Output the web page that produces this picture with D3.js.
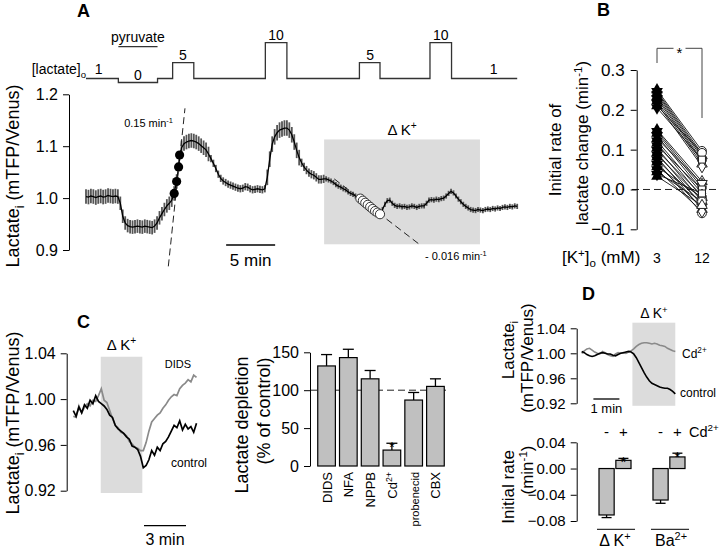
<!DOCTYPE html>
<html><head><meta charset="utf-8">
<script src="https://cdn.jsdelivr.net/npm/d3@7"></script>
<style>
body{margin:0;background:#fff}
svg{display:block}
text{font-family:"Liberation Sans",Arial,Helvetica,sans-serif;fill:#000}
</style>
</head><body>
<svg id="chart" width="720" height="549"></svg>
<script>
// ---------------- DATA ----------------
// Panel A: mean lactate trace, sampled every 0.25 min
const traceAStep = 0.25;
const traceAValues = [1.003,1.002,1.004,1.003,1.001,1.003,1.004,1.002,1.003,1.005,1.004,1.003,1.004,1.003,
0.990,0.965,0.952,0.947,0.945,0.944,0.945,0.946,0.945,0.944,0.946,0.945,0.944,0.943,0.946,0.952,0.962,0.970,0.978,0.985,0.990,0.996,
1.009,1.032,1.068,1.097,1.105,1.108,1.110,1.111,1.110,1.108,1.105,1.101,1.097,1.093,1.085,1.076,1.067,1.057,1.046,1.038,
1.033,1.030,1.027,1.025,1.023,1.021,1.019,1.018,1.019,1.022,1.021,1.018,1.016,1.017,1.018,1.017,1.016,1.018,
1.040,1.075,1.104,1.118,1.126,1.131,1.133,1.135,1.135,1.131,1.122,1.108,1.092,1.078,1.068,1.060,1.054,1.049,1.046,1.044,1.040,1.036,
1.036,1.037,1.037,1.035,1.033,1.030,1.026,1.023,1.021,1.018,1.016,1.012,1.009,1.007,1.004,1.002,
0.999,0.995,0.991,0.987,0.983,0.979,0.975,0.972,0.969,0.978,0.988,0.995,0.996,0.990,0.986,0.984,
0.985,0.983,0.984,0.982,0.983,0.985,0.984,0.982,0.984,0.985,0.985,0.990,0.996,0.997,0.996,0.998,0.997,0.999,1.000,1.004,1.009,1.013,
1.010,1.004,0.998,0.993,0.988,0.984,0.981,0.978,0.977,0.976,0.978,0.977,0.976,0.978,0.979,0.978,0.980,0.979,0.981,0.980,0.982,0.983,0.982,0.984,0.983,0.985,0.984];
// SEM per time segment [start, end, sem]
const traceASem = [[0,3.4,0.014],[3.4,9,0.013],[9,12.6,0.014],[12.6,18.4,0.007],[18.4,22,0.015],[22,24.3,0.008],[24.3,30.1,0.005],[30.1,44.1,0.005]];
const stimStart = [0, 3.3, 7.3, 8.84, 11.0, 18.3, 20.5, 27.9, 30.0, 35.1, 37.3];
const stimConc  = [1, 0, 1, 5, 1, 10, 1, 5, 1, 10, 1];
const stimEndTime = 44;
const stimLabelT = [1.3, 5.3, 9.9, 19.4, 29.0, 36.2, 41.6];
const stimLabelConc = [1, 0, 5, 10, 5, 10, 1];
const stimLabelText = ["1","0","5","10","5","10","1"];
const pyruvateT = [3.3, 7.3];
const fitUpT = [8.40, 10.10], fitUpV = [0.8685, 1.173];
const fitDownT = [25.33, 34.15], fitDownV = [1.037, 0.909];
const dotsUpT = [9.0, 9.25, 9.45, 9.55], dotsUpV = [1.009, 1.032, 1.060, 1.083];
const dotsDownT = [28.0,28.25,28.5,28.75,29.0,29.25,29.5,29.75,30.0];
const dotsDownV = [0.999,0.995,0.991,0.987,0.983,0.979,0.975,0.972,0.969];
const boxAT = [24.3, 40.2], boxAV = [0.911, 1.113];
const scaleBarAT = [14.3, 19.3];
const ticksA = [0.9, 1.0, 1.1, 1.2];

// Panel B: initial rate at 3 and 12 mM K+
const kLevels = ["3", "12"];
const rate3  = [0.250,0.246,0.242,0.238,0.233,0.228,0.222,0.216,0.210,0.205,
  0.150,0.146,0.141,0.135,0.128,0.122,0.116,0.110,0.104,0.098,0.092,0.087,0.081,0.075,0.069,0.063,0.057,0.050,0.044,0.038,0.033];
const rate12 = [0.097,0.090,0.085,0.080,0.074,0.070,0.064,0.058,0.092,0.075,
  0.020,0.012,0.005,-0.002,0.015,-0.010,-0.020,0.000,-0.030,-0.015,-0.040,-0.025,-0.050,-0.035,-0.060,-0.045,-0.020,-0.055,-0.030,-0.010,-0.040];
const ticksB = [-0.1, 0.0, 0.1, 0.2, 0.3];

// Panel C left: example traces (sampled every 0.2 min)
const traceCStep = 0.2;
const controlC = [0.990,0.985,0.993,0.988,0.995,0.992,0.999,0.996,1.003,0.998,0.996,0.994,0.991,0.986,0.984,0.977,0.974,0.972,0.970,0.967,
  0.965,0.959,0.958,0.956,0.950,0.940,0.942,0.947,0.955,0.951,0.958,0.955,0.961,0.963,0.967,0.972,0.977,0.975,0.981,0.973,0.978,0.974,0.976,0.971,0.979];
const didsC = [0.985,0.984,0.994,0.988,0.993,0.996,0.994,0.999,0.998,1.003,1.009,0.999,0.997,0.990,0.983,0.977,0.975,0.971,0.970,0.968,
  0.963,0.961,0.958,0.957,0.955,0.955,0.962,0.972,0.980,0.983,0.986,0.988,0.992,0.995,0.999,1.002,1.004,1.003,1.009,1.012,1.014,1.017,1.015,1.021,1.019];
const boxCT = [1.96, 4.93], boxCV = [0.918, 1.037];
const scaleBarCT = [5.05, 8.05];
const ticksC = [0.92, 0.96, 1.00, 1.04];

// Panel C right: lactate depletion (% of control)
const blockers = ["DIDS", "NFA", "NPPB", "Cd2+", "probenecid", "CBX"];
const depletion = [132, 143, 115, 21, 87, 105];
const depletionErr = [15, 11, 11, 9, 10, 10];
const ticksCB = [0, 50, 100, 150];

// Panel D top: traces (sampled every 0.1 min)
const traceDStep = 0.1;
const cdD = [1.000,1.004,1.007,1.008,1.005,1.002,1.000,0.999,1.003,1.001,0.998,0.996,0.995,0.999,1.001,1.000,1.001,1.000,1.002,1.004,
  1.007,1.011,1.014,1.016,1.017,1.017,1.016,1.015,1.016,1.015,1.013,1.012,1.011,1.008,1.006,1.004,1.003];
const controlD = [1.003,1.001,0.998,0.996,0.995,0.996,0.998,1.000,1.001,1.000,0.999,0.999,0.997,0.996,0.998,1.000,1.001,1.002,1.003,1.002,
  0.999,0.993,0.985,0.977,0.969,0.962,0.956,0.952,0.950,0.948,0.946,0.945,0.944,0.944,0.942,0.939,0.935];
const boxDT = [1.95, 3.6], boxDV = [0.916, 1.049];
const scaleBarDT = [0.45, 1.45];
const ticksD = [0.92, 0.96, 1.00, 1.04];

// Panel D bottom: initial rates
const rateGroups = ["dK", "Ba"];
const cdStates = ["-", "+"];
const rateD = {dK: [-0.0708, 0.0125], Ba: [-0.048, 0.0177]};
const rateDErr = {dK: [0.004, 0.003], Ba: [0.005, 0.0057]};
const ticksDB = [-0.08, -0.04, 0.00, 0.04];

// ---------------- HELPERS ----------------
const svg = d3.select("#chart");
svg.append("rect").attr("width",720).attr("height",549).attr("fill","#fff");

function rich(g, x, y, parts, size, anchor) {
  const t = g.append("text").attr("x", x).attr("y", y).attr("font-size", size).attr("text-anchor", anchor || "start");
  let shift = 0;
  parts.forEach(p => {
    const [s, k] = Array.isArray(p) ? p : [p, "n"];
    const target = k === "sup" ? -0.38 * size : k === "sub" ? 0.25 * size : 0;
    const ts = t.append("tspan").text(s).attr("dy", target - shift);
    if (k !== "n") ts.attr("font-size", size * 0.68);
    shift = target;
  });
  return t;
}
function vtitle(x, y, parts, size, anchor) {
  const g = svg.append("g").attr("transform", `translate(${x},${y}) rotate(-90)`);
  rich(g, 0, 0, parts, size, anchor || "middle");
}
function yAxis(x, scale, ticks, fmt, size, pad) {
  const g = svg.append("g").attr("transform", `translate(${x},0)`)
    .call(d3.axisLeft(scale).tickValues(ticks).tickFormat(fmt).tickSize(6).tickSizeOuter(0).tickPadding(pad || 5));
  g.attr("font-family", null).attr("font-size", null);
  g.selectAll("text").attr("font-size", size).attr("fill", "#000");
  g.select(".domain").attr("stroke", "#000");
  g.selectAll(".tick line").attr("stroke", "#000");
  return g;
}
function letter(x, y, s) {
  svg.append("text").attr("x", x).attr("y", y).attr("font-size", 18).attr("font-weight", "bold").text(s);
}
const dashed = "7,4";

// ---------------- PANEL A ----------------
const xA = d3.scaleLinear().domain([0, 44]).range([86, 517.2]);
const yA = d3.scaleLinear().domain([0.9, 1.2]).range([250, 94.3]);
const yStim = d3.scaleLinear().domain([0, 10]).range([82.5, 42.7]);
letter(77, 17, "A");

svg.append("rect").attr("x", xA(boxAT[0])).attr("y", yA(boxAV[1]))
  .attr("width", xA(boxAT[1]) - xA(boxAT[0])).attr("height", yA(boxAV[0]) - yA(boxAV[1])).attr("fill", "#dcdcdc");
rich(svg, (xA(boxAT[0]) + xA(boxAT[1])) / 2, 135, ["Δ K", ["+", "sup"]], 15, "middle");

const stimPts = stimStart.map((t, i) => [t, stimConc[i]]).concat([[stimEndTime, stimConc[stimConc.length - 1]]]);
svg.append("path").datum(stimPts)
  .attr("d", d3.line().x(d => xA(d[0])).y(d => yStim(d[1])).curve(d3.curveStepAfter))
  .attr("fill", "none").attr("stroke", "#333").attr("stroke-width", 1.3);
stimLabelT.forEach((t, i) => {
  svg.append("text").attr("x", xA(t)).attr("y", yStim(stimLabelConc[i]) - (stimLabelConc[i] === 1 ? 5 : 3))
    .attr("font-size", 14).attr("text-anchor", "middle").text(stimLabelText[i]);
});
rich(svg, 86, 74, ["[lactate]", ["o", "sub"]], 14, "end");
svg.append("line").attr("x1", xA(pyruvateT[0])).attr("x2", xA(pyruvateT[1])).attr("y1", 46.7).attr("y2", 46.7)
  .attr("stroke", "#333").attr("stroke-width", 1.3);
svg.append("text").attr("x", (xA(pyruvateT[0]) + xA(pyruvateT[1])) / 2).attr("y", 42).attr("font-size", 14)
  .attr("text-anchor", "middle").text("pyruvate");

yAxis(69, yA, ticksA, d3.format(".1f"), 16, 5);
vtitle(19, 176, ["Lactate", ["i", "sub"], " (mTFP/Venus)"], 18);

const traceA = traceAValues.map((v, i) => ({t: i * traceAStep, v}));
const semAt = t => { const s = traceASem.find(d => t >= d[0] && t < d[1]); return s ? s[2] : 0.005; };
svg.append("g").selectAll("line").data(traceA).join("line")
  .attr("x1", d => xA(d.t)).attr("x2", d => xA(d.t))
  .attr("y1", d => yA(d.v - semAt(d.t))).attr("y2", d => yA(d.v + semAt(d.t)))
  .attr("stroke", "#555").attr("stroke-width", 1.8);
svg.append("path").datum(traceA).attr("d", d3.line().x(d => xA(d.t)).y(d => yA(d.v)))
  .attr("fill", "none").attr("stroke", "#000").attr("stroke-width", 1.3);

[[fitUpT, fitUpV], [fitDownT, fitDownV]].forEach(([T, V]) => {
  svg.append("line").attr("x1", xA(T[0])).attr("y1", yA(V[0])).attr("x2", xA(T[1])).attr("y2", yA(V[1]))
    .attr("stroke", "#222").attr("stroke-width", 1).attr("stroke-dasharray", dashed);
});
svg.append("g").selectAll("circle").data(dotsUpT).join("circle")
  .attr("cx", d => xA(d)).attr("cy", (d, i) => yA(dotsUpV[i])).attr("r", 4.6).attr("fill", "#000");
svg.append("g").selectAll("circle").data(dotsDownT).join("circle")
  .attr("cx", d => xA(d)).attr("cy", (d, i) => yA(dotsDownV[i])).attr("r", 4.6)
  .attr("fill", "#fff").attr("stroke", "#333").attr("stroke-width", 1);
rich(svg, 173, 127, ["0.15 min", ["-1", "sup"]], 11, "end");
rich(svg, 425, 260, ["- 0.016 min", ["-1", "sup"]], 11, "start");

svg.append("line").attr("x1", xA(scaleBarAT[0])).attr("x2", xA(scaleBarAT[1])).attr("y1", 245).attr("y2", 245)
  .attr("stroke", "#000").attr("stroke-width", 1.3);
svg.append("text").attr("x", (xA(scaleBarAT[0]) + xA(scaleBarAT[1])) / 2).attr("y", 266).attr("font-size", 17)
  .attr("text-anchor", "middle").text("5 min");

// ---------------- PANEL B ----------------
letter(597, 16, "B");
const xB = d3.scalePoint().domain(kLevels).range([657, 702]);
const yB = d3.scaleLinear().domain([-0.1, 0.3]).range([229.3, 70]);
svg.append("line").attr("x1", 632).attr("x2", 720).attr("y1", yB(0)).attr("y2", yB(0))
  .attr("stroke", "#222").attr("stroke-width", 1).attr("stroke-dasharray", dashed);
yAxis(636.7, yB, ticksB, d3.format(".1f"), 17, 6);
vtitle(561, 150, ["Initial rate of"], 17);
vtitle(588, 143, ["lactate change (min", ["-1", "sup"], ")"], 17);
const pairs = rate3.map((v, i) => ({a: v, b: rate12[i], i}));
svg.append("g").selectAll("line").data(pairs).join("line")
  .attr("x1", xB("3")).attr("x2", xB("12")).attr("y1", d => yB(d.a)).attr("y2", d => yB(d.b))
  .attr("stroke", "#111").attr("stroke-width", 0.9);
const openShapes = [d3.symbolCircle, d3.symbolSquare, d3.symbolTriangle, d3.symbolDiamond];
svg.append("g").selectAll("path").data(pairs).join("path")
  .attr("transform", d => `translate(${xB("12")},${yB(d.b)})` + (d.i % 5 === 4 ? " rotate(180)" : ""))
  .attr("d", d => d3.symbol().type(openShapes[d.i % 4]).size(d.i % 4 === 0 ? 60 : 48)())
  .attr("fill", "#fff").attr("stroke", "#222").attr("stroke-width", 1);
svg.append("g").selectAll("path").data(pairs).join("path")
  .attr("transform", d => `translate(${xB("3")},${yB(d.a)})` + (d.i % 2 ? " rotate(180)" : ""))
  .attr("d", d3.symbol().type(d3.symbolTriangle).size(60)())
  .attr("fill", "#000");
const brY = 48.3;
svg.append("path").attr("d", `M${xB("3")},63 V${brY} H${(xB("3") + xB("12")) / 2 - 6} M${(xB("3") + xB("12")) / 2 + 6},${brY} H${xB("12")} V118`)
  .attr("fill", "none").attr("stroke", "#444").attr("stroke-width", 1);
svg.append("text").attr("x", (xB("3") + xB("12")) / 2).attr("y", 58).attr("font-size", 15).attr("text-anchor", "middle").text("*");
rich(svg, 562, 263, ["[K", ["+", "sup"], "]", ["o", "sub"], " (mM)"], 17, "start");
kLevels.forEach(k => svg.append("text").attr("x", xB(k)).attr("y", 263).attr("font-size", 14).attr("text-anchor", "middle").text(k));

// ---------------- PANEL C left ----------------
letter(77, 328, "C");
const xC = d3.scaleLinear().domain([0, 8.8]).range([73.3, 196.5]);
const yC = d3.scaleLinear().domain([0.92, 1.04]).range([490.7, 353.3]);
svg.append("rect").attr("x", xC(boxCT[0])).attr("y", yC(boxCV[1])).attr("width", xC(boxCT[1]) - xC(boxCT[0]))
  .attr("height", yC(boxCV[0]) - yC(boxCV[1])).attr("fill", "#dcdcdc");
rich(svg, (xC(boxCT[0]) + xC(boxCT[1])) / 2, 350, ["Δ K", ["+", "sup"]], 15, "middle");
yAxis(66.7, yC, ticksC, d3.format(".2f"), 16, 5);
vtitle(19, 423, ["Lactate", ["i", "sub"], " (mTFP/Venus)"], 18);
const lineC = d3.line().x((d, i) => xC(i * traceCStep)).y(d => yC(d));
svg.append("path").datum(didsC).attr("d", lineC).attr("fill", "none").attr("stroke", "#8a8a8a").attr("stroke-width", 1.7);
svg.append("path").datum(controlC).attr("d", lineC).attr("fill", "none").attr("stroke", "#000").attr("stroke-width", 1.7);
svg.append("text").attr("x", 178).attr("y", 368).attr("font-size", 11).attr("text-anchor", "middle").text("DIDS");
svg.append("text").attr("x", 189).attr("y", 467).attr("font-size", 12).attr("text-anchor", "middle").text("control");
svg.append("line").attr("x1", xC(scaleBarCT[0])).attr("x2", xC(scaleBarCT[1])).attr("y1", 525.7).attr("y2", 525.7)
  .attr("stroke", "#000").attr("stroke-width", 1.3);
svg.append("text").attr("x", (xC(scaleBarCT[0]) + xC(scaleBarCT[1])) / 2).attr("y", 545).attr("font-size", 16)
  .attr("text-anchor", "middle").text("3 min");

// ---------------- PANEL C right ----------------
const xCB = d3.scaleBand().domain(blockers).range([316, 446]).paddingInner(0.19).paddingOuter(0.08);
const yCB = d3.scaleLinear().domain([0, 150]).range([466, 352.3]);
svg.append("line").attr("x1", 310).attr("x2", 446).attr("y1", yCB(100)).attr("y2", yCB(100))
  .attr("stroke", "#222").attr("stroke-width", 1).attr("stroke-dasharray", dashed);
const barsC = blockers.map((b, i) => ({b, v: depletion[i], e: depletionErr[i]}));
const gCB = svg.append("g");
barsC.forEach(d => {
  const cx = xCB(d.b) + xCB.bandwidth() / 2;
  gCB.append("line").attr("x1", cx).attr("x2", cx).attr("y1", yCB(d.v)).attr("y2", yCB(d.v + d.e)).attr("stroke", "#000").attr("stroke-width", 1.3);
  gCB.append("line").attr("x1", cx - 5.5).attr("x2", cx + 5.5).attr("y1", yCB(d.v + d.e)).attr("y2", yCB(d.v + d.e)).attr("stroke", "#000").attr("stroke-width", 1.3);
  gCB.append("rect").attr("x", xCB(d.b)).attr("y", yCB(d.v)).attr("width", xCB.bandwidth()).attr("height", yCB(0) - yCB(d.v))
    .attr("fill", "#c0c0c0").attr("stroke", "#000").attr("stroke-width", 1.2);
});
svg.append("text").attr("x", xCB("Cd2+") + xCB.bandwidth() / 2).attr("y", yCB(depletion[3] + depletionErr[3]) + 9)
  .attr("font-size", 14).attr("text-anchor", "middle").text("*");
yAxis(310, yCB, ticksCB, d3.format("d"), 16, 5);
vtitle(248, 425, ["Lactate depletion"], 18);
vtitle(270, 411, ["(% of control)"], 18);
// category labels, turned to read upward below each bar
blockers.forEach(b => {
  const cx = xCB(b) + xCB.bandwidth() / 2 + 5;
  const size = b === "probenecid" ? 11 : 13;
  const parts = b === "Cd2+" ? ["Cd", ["2+", "sup"]] : [b];
  vtitle(cx, 472, parts, size, "end");
});

// ---------------- PANEL D top ----------------
letter(582, 300, "D");
const xD = d3.scaleLinear().domain([0, 3.6]).range([581.7, 675.3]);
const yD = d3.scaleLinear().domain([0.92, 1.04]).range([403.3, 328.3]);
svg.append("rect").attr("x", xD(boxDT[0])).attr("y", yD(boxDV[1])).attr("width", xD(boxDT[1]) - xD(boxDT[0]))
  .attr("height", yD(boxDV[0]) - yD(boxDV[1])).attr("fill", "#dcdcdc");
rich(svg, (xD(boxDT[0]) + xD(boxDT[1])) / 2, 318, ["Δ K", ["+", "sup"]], 14, "middle");
yAxis(576.7, yD, ticksD, d3.format(".2f"), 15, 5);
vtitle(514, 350, ["Lactate", ["i", "sub"]], 17);
vtitle(533, 358, ["(mTFP/Venus)"], 17);
const lineD = d3.line().x((d, i) => xD(i * traceDStep)).y(d => yD(d));
svg.append("path").datum(cdD).attr("d", lineD).attr("fill", "none").attr("stroke", "#8a8a8a").attr("stroke-width", 1.6);
svg.append("path").datum(controlD).attr("d", lineD).attr("fill", "none").attr("stroke", "#000").attr("stroke-width", 1.6);
rich(svg, 682, 358, ["Cd", ["2+", "sup"]], 12, "start");
svg.append("text").attr("x", 680).attr("y", 397).attr("font-size", 12).text("control");
svg.append("line").attr("x1", xD(scaleBarDT[0])).attr("x2", xD(scaleBarDT[1])).attr("y1", 399).attr("y2", 399)
  .attr("stroke", "#000").attr("stroke-width", 1.3);
svg.append("text").attr("x", (xD(scaleBarDT[0]) + xD(scaleBarDT[1])) / 2).attr("y", 413).attr("font-size", 13)
  .attr("text-anchor", "middle").text("1 min");

// ---------------- PANEL D bottom ----------------
const xDB = d3.scaleBand().domain(rateGroups).range([599, 685]).paddingInner(0.407).paddingOuter(0);
const xDBi = d3.scaleBand().domain(cdStates).range([0, xDB.bandwidth()]).paddingInner(0.1);
const yDB = d3.scaleLinear().domain([-0.08, 0.04]).range([521, 442.3]);
const gDB = svg.append("g");
rateGroups.forEach(gr => {
  cdStates.forEach((s, j) => {
    const v = rateD[gr][j], e = rateDErr[gr][j];
    const x0 = xDB(gr) + xDBi(s), w = xDBi.bandwidth(), cx = x0 + w / 2;
    const tip = v < 0 ? v - e : v + e;
    gDB.append("line").attr("x1", cx).attr("x2", cx).attr("y1", yDB(v)).attr("y2", yDB(tip)).attr("stroke", "#000").attr("stroke-width", 1.3);
    gDB.append("line").attr("x1", cx - 5).attr("x2", cx + 5).attr("y1", yDB(tip)).attr("y2", yDB(tip)).attr("stroke", "#000").attr("stroke-width", 1.3);
    gDB.append("rect").attr("x", x0).attr("y", yDB(Math.max(v, 0))).attr("width", w).attr("height", Math.abs(yDB(v) - yDB(0)))
      .attr("fill", "#c0c0c0").attr("stroke", "#000").attr("stroke-width", 1.2);
    svg.append("text").attr("x", cx).attr("y", 436.7).attr("font-size", 15).attr("text-anchor", "middle").text(s);
    if (s === "+") svg.append("text").attr("x", cx).attr("y", yDB(tip) + 9).attr("font-size", 15).attr("text-anchor", "middle").text("*");
  });
  svg.append("line").attr("x1", xDB(gr) - 2).attr("x2", xDB(gr) + xDB.bandwidth() + 4).attr("y1", 529.3).attr("y2", 529.3)
    .attr("stroke", "#333").attr("stroke-width", 1.3);
});
rich(svg, 689, 436.7, ["Cd", ["2+", "sup"]], 14.5, "start");
yAxis(576.7, yDB, ticksDB, d3.format(".2f"), 15, 5);
vtitle(514, 487, ["Initial rate"], 17);
vtitle(533, 470, ["(min", ["-1", "sup"], ")"], 17);
rich(svg, xDB("dK") + xDB.bandwidth() / 2, 546, ["Δ K", ["+", "sup"]], 16, "middle");
rich(svg, xDB("Ba") + xDB.bandwidth() / 2 + 2, 546, ["Ba", ["2+", "sup"]], 16, "middle");
</script>
</body></html>
